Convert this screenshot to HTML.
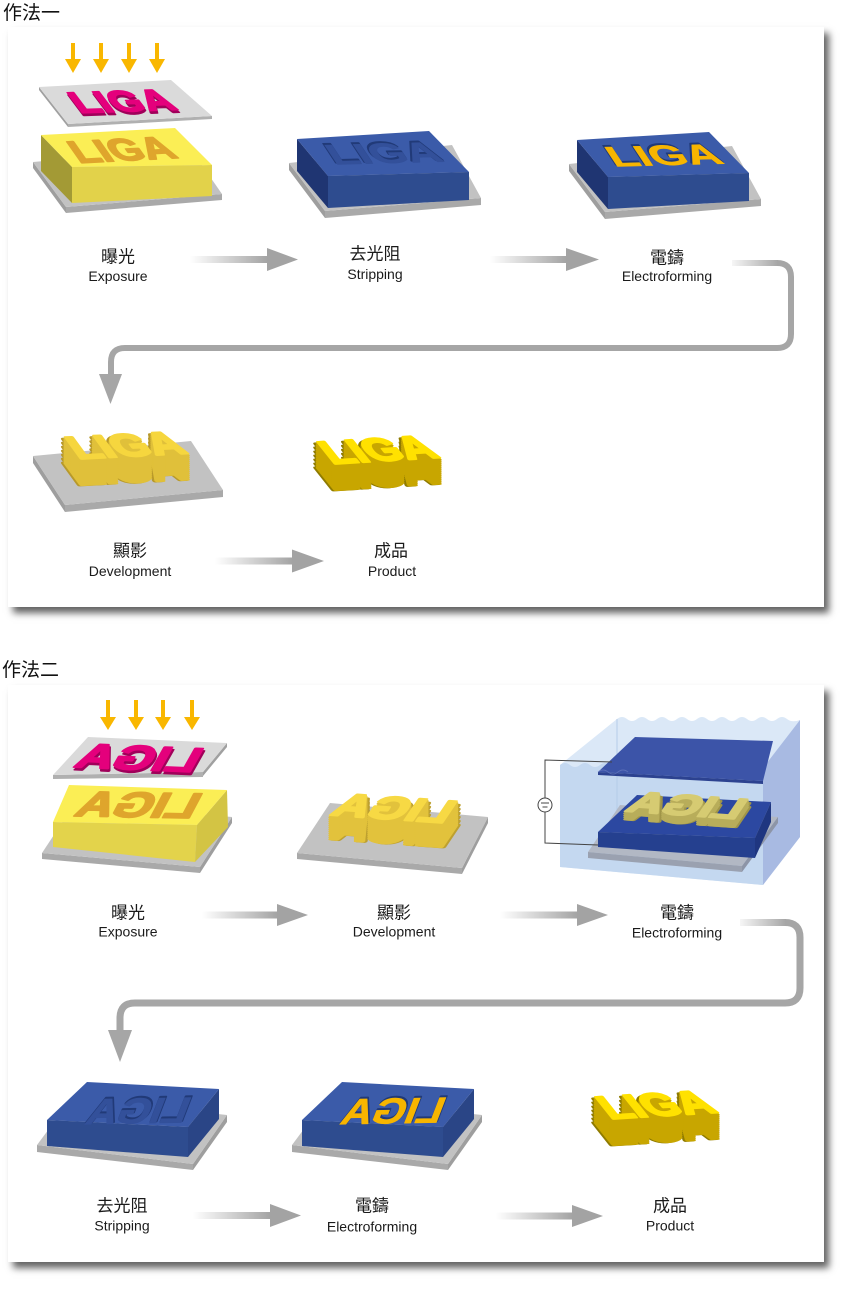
<!DOCTYPE html>
<html><head><meta charset="utf-8">
<style>
html,body{margin:0;padding:0;background:#fff;}
body{width:850px;height:1290px;position:relative;overflow:hidden;}
.panel{position:absolute;background:#fff;box-shadow:5px 6px 7px rgba(0,0,0,0.62);}
svg{position:absolute;left:0;top:0;}
.cn{font-family:"Liberation Sans","Noto Sans CJK TC",sans-serif;font-size:17px;fill:#1a1a1a;}
.en{font-family:"Liberation Sans",sans-serif;font-size:14px;fill:#1a1a1a;}
.tt{font-family:"Liberation Sans","Noto Sans CJK TC",sans-serif;font-size:19px;fill:#111;}
.L{font-family:"Liberation Sans",sans-serif;font-weight:bold;font-size:30px;stroke-linejoin:round;}
</style></head><body>
<div class="panel" style="left:8px;top:27px;width:816px;height:580px;"></div>
<div class="panel" style="left:8px;top:685px;width:816px;height:577px;"></div>
<svg width="850" height="1290" viewBox="0 0 850 1290" xmlns="http://www.w3.org/2000/svg">
<defs>
<linearGradient id="ag" x1="0" x2="1" y1="0" y2="0"><stop offset="0" stop-color="#a3a3a3" stop-opacity="0"/><stop offset="1" stop-color="#a3a3a3"/></linearGradient>
<linearGradient id="hg" x1="0" x2="1" y1="0" y2="0"><stop offset="0" stop-color="#a6a6a6" stop-opacity="0.1"/><stop offset="1" stop-color="#a6a6a6"/></linearGradient>
</defs>

<!-- titles -->
<text class="tt" x="3" y="19">作法一</text>
<text class="tt" x="2" y="676">作法二</text>

<!-- ============ PANEL 1 ============ -->
<!-- A exposure -->
<g fill="#f9b700">
<rect x="71" y="43" width="4" height="18"/><polygon points="65,59 81,59 73,73"/>
<rect x="99" y="43" width="4" height="18"/><polygon points="93,59 109,59 101,73"/>
<rect x="127" y="43" width="4" height="18"/><polygon points="121,59 137,59 129,73"/>
<rect x="155" y="43" width="4" height="18"/><polygon points="149,59 165,59 157,73"/>
</g>
<polygon points="33,162 66,207 66,213 33,168" fill="#9e9e9e"/>
<polygon points="66,207 222,194 222,200 66,213" fill="#a9a9a9"/>
<polygon points="33,162 190,148 222,194 66,207" fill="#c2c2c2"/>
<polygon points="41,135 72,167 72,203 41,171" fill="#a39a35"/>
<polygon points="72,167 212,165 212,196 72,203" fill="#e2d24a"/>
<polygon points="41,135 175,128 212,165 72,167" fill="#fbee55"/>
<text class="L" transform="translate(79,163) rotate(-3) skewX(32) scale(1.4,1.05)" fill="#dfa52c" stroke="#dfa52c" stroke-width="1.6">LIGA</text>
<polygon points="39,87 68,124 68,127 39,90" fill="#a0a0a0"/>
<polygon points="68,124 212,116 212,119 68,127" fill="#b0b0b0"/>
<polygon points="39,87 171,80 212,116 68,124" fill="#dadada"/>
<text class="L" transform="translate(81,115.5) rotate(-2) skewX(35) scale(1.38,1)" font-size="34" fill="#a0005a" stroke="#a0005a" stroke-width="1.8">LIGA</text>
<text class="L" transform="translate(80,113) rotate(-2) skewX(35) scale(1.38,1)" font-size="34" fill="#e4007c" stroke="#e4007c" stroke-width="1.6">LIGA</text>

<!-- B stripping -->
<polygon points="289,163 325,211 325,218 289,170" fill="#9e9e9e"/>
<polygon points="325,211 481,198 481,205 325,218" fill="#a9a9a9"/>
<polygon points="289,163 452,145 481,198 325,211" fill="#c2c2c2"/>
<polygon points="297,139 328,176 328,208 297,171" fill="#1f3572"/>
<polygon points="328,176 469,172 469,200 328,208" fill="#2e4c8f"/>
<polygon points="297,139 429,131 469,172 328,176" fill="#3b5ba9"/>
<text class="L" transform="translate(333,163) rotate(-1.5) skewX(32) scale(1.55,0.95)" fill="#213a78" stroke="#213a78" stroke-width="1.4">LIGA</text>
<text class="L" transform="translate(334.5,164.5) rotate(-1.5) skewX(32) scale(1.55,0.95)" fill="#33509a" stroke="#33509a" stroke-width="0.6">LIGA</text>

<!-- C electroforming -->
<g transform="translate(280,1)">
<polygon points="289,163 325,211 325,218 289,170" fill="#9e9e9e"/>
<polygon points="325,211 481,198 481,205 325,218" fill="#a9a9a9"/>
<polygon points="289,163 452,145 481,198 325,211" fill="#c2c2c2"/>
<polygon points="297,139 328,176 328,208 297,171" fill="#1f3572"/>
<polygon points="328,176 469,172 469,200 328,208" fill="#2e4c8f"/>
<polygon points="297,139 429,131 469,172 328,176" fill="#3b5ba9"/>
<text class="L" transform="translate(333,164) rotate(-1.5) skewX(32) scale(1.55,0.95)" fill="#213a78" stroke="#213a78" stroke-width="1.4">LIGA</text>
<text class="L" transform="translate(334.5,165.5) rotate(-1.5) skewX(32) scale(1.55,0.95)" fill="#f7b500" stroke="#f7b500" stroke-width="0.6">LIGA</text>
</g>

<!-- arrows row1 -->
<rect x="190" y="256" width="78" height="7" fill="url(#ag)"/><polygon points="267,248 298,259.5 267,271" fill="#a3a3a3"/>
<rect x="490" y="256" width="77" height="7" fill="url(#ag)"/><polygon points="566,248 599,259.5 566,271" fill="#a3a3a3"/>

<!-- labels row1 -->
<g text-anchor="middle">
<text class="cn" x="118" y="262.5">曝光</text><text class="en" x="118" y="281">Exposure</text>
<text class="cn" x="375" y="259.5">去光阻</text><text class="en" x="375" y="279">Stripping</text>
<text class="cn" x="667" y="263.5">電鑄</text><text class="en" x="667" y="281">Electroforming</text>
</g>

<!-- connector 1 -->
<rect x="732" y="260" width="46" height="6" fill="url(#hg)"/>
<path d="M777 263 Q791 263 791 277 V334 Q791 348 777 348 H125 Q111 348 111 362 V376" stroke="#a6a6a6" stroke-width="6" fill="none"/>
<polygon points="99,374 122,374 110.5,404" fill="#a6a6a6"/>

<!-- D development -->
<polygon points="33,456 65,505 65,512 33,463" fill="#9e9e9e"/>
<polygon points="65,505 223,490 223,497 65,512" fill="#a9a9a9"/>
<polygon points="33,456 191,441 223,490 65,505" fill="#c2c2c2"/>
<g class="L" fill="#b8992a" stroke="#b8992a" stroke-width="3">
<text transform="translate(76,485) rotate(-3) skewX(33) scale(1.55,1.08)">LIGA</text>
<text transform="translate(76,481) rotate(-3) skewX(33) scale(1.55,1.08)">LIGA</text>
<text transform="translate(76,477) rotate(-3) skewX(33) scale(1.55,1.08)">LIGA</text>
<text transform="translate(76,473) rotate(-3) skewX(33) scale(1.55,1.08)">LIGA</text>
<text transform="translate(76,469) rotate(-3) skewX(33) scale(1.55,1.08)">LIGA</text>
<text transform="translate(76,465) rotate(-3) skewX(33) scale(1.55,1.08)">LIGA</text>
<text transform="translate(76,461) rotate(-3) skewX(33) scale(1.55,1.08)">LIGA</text>
</g>
<g class="L" fill="#e0c03a" stroke="#e0c03a" stroke-width="2.5">
<text transform="translate(78,485) rotate(-3) skewX(33) scale(1.55,1.08)">LIGA</text>
<text transform="translate(78,483) rotate(-3) skewX(33) scale(1.55,1.08)">LIGA</text>
<text transform="translate(78,481) rotate(-3) skewX(33) scale(1.55,1.08)">LIGA</text>
<text transform="translate(78,479) rotate(-3) skewX(33) scale(1.55,1.08)">LIGA</text>
<text transform="translate(78,477) rotate(-3) skewX(33) scale(1.55,1.08)">LIGA</text>
<text transform="translate(78,475) rotate(-3) skewX(33) scale(1.55,1.08)">LIGA</text>
<text transform="translate(78,473) rotate(-3) skewX(33) scale(1.55,1.08)">LIGA</text>
<text transform="translate(78,471) rotate(-3) skewX(33) scale(1.55,1.08)">LIGA</text>
<text transform="translate(78,469) rotate(-3) skewX(33) scale(1.55,1.08)">LIGA</text>
<text transform="translate(78,467) rotate(-3) skewX(33) scale(1.55,1.08)">LIGA</text>
<text transform="translate(78,465) rotate(-3) skewX(33) scale(1.55,1.08)">LIGA</text>
<text transform="translate(78,463) rotate(-3) skewX(33) scale(1.55,1.08)">LIGA</text>
<text transform="translate(78,461) rotate(-3) skewX(33) scale(1.55,1.08)">LIGA</text>
</g>
<text class="L" transform="translate(78,459) rotate(-3) skewX(33) scale(1.55,1.08)" fill="#f6d63e" stroke="#f6d63e" stroke-width="2">LIGA</text>

<!-- E product -->
<g class="L" fill="#8f7b00" stroke="#8f7b00" stroke-width="3">
<text transform="translate(330,490) rotate(-3.5) skewX(35) scale(1.52,1.1)">LIGA</text>
<text transform="translate(330,486) rotate(-3.5) skewX(35) scale(1.52,1.1)">LIGA</text>
<text transform="translate(330,482) rotate(-3.5) skewX(35) scale(1.52,1.1)">LIGA</text>
<text transform="translate(330,478) rotate(-3.5) skewX(35) scale(1.52,1.1)">LIGA</text>
<text transform="translate(330,474) rotate(-3.5) skewX(35) scale(1.52,1.1)">LIGA</text>
<text transform="translate(330,470) rotate(-3.5) skewX(35) scale(1.52,1.1)">LIGA</text>
<text transform="translate(330,466) rotate(-3.5) skewX(35) scale(1.52,1.1)">LIGA</text>
</g>
<g class="L" fill="#c8a600" stroke="#c8a600" stroke-width="2.5">
<text transform="translate(332,490) rotate(-3.5) skewX(35) scale(1.52,1.1)">LIGA</text>
<text transform="translate(332,488) rotate(-3.5) skewX(35) scale(1.52,1.1)">LIGA</text>
<text transform="translate(332,486) rotate(-3.5) skewX(35) scale(1.52,1.1)">LIGA</text>
<text transform="translate(332,484) rotate(-3.5) skewX(35) scale(1.52,1.1)">LIGA</text>
<text transform="translate(332,482) rotate(-3.5) skewX(35) scale(1.52,1.1)">LIGA</text>
<text transform="translate(332,480) rotate(-3.5) skewX(35) scale(1.52,1.1)">LIGA</text>
<text transform="translate(332,478) rotate(-3.5) skewX(35) scale(1.52,1.1)">LIGA</text>
<text transform="translate(332,476) rotate(-3.5) skewX(35) scale(1.52,1.1)">LIGA</text>
<text transform="translate(332,474) rotate(-3.5) skewX(35) scale(1.52,1.1)">LIGA</text>
<text transform="translate(332,472) rotate(-3.5) skewX(35) scale(1.52,1.1)">LIGA</text>
<text transform="translate(332,470) rotate(-3.5) skewX(35) scale(1.52,1.1)">LIGA</text>
<text transform="translate(332,468) rotate(-3.5) skewX(35) scale(1.52,1.1)">LIGA</text>
<text transform="translate(332,466) rotate(-3.5) skewX(35) scale(1.52,1.1)">LIGA</text>
</g>
<text class="L" transform="translate(332,464) rotate(-3.5) skewX(35) scale(1.52,1.1)" fill="#ffe100" stroke="#ffe100" stroke-width="2">LIGA</text>

<!-- arrow row2 -->
<rect x="215" y="557.5" width="78" height="7" fill="url(#ag)"/><polygon points="292,549.5 324,561 292,572.5" fill="#a3a3a3"/>
<g text-anchor="middle">
<text class="cn" x="130" y="556.5">顯影</text><text class="en" x="130" y="576">Development</text>
<text class="cn" x="391" y="556.5">成品</text><text class="en" x="392" y="576">Product</text>
</g>

<!-- ============ PANEL 2 ============ -->
<!-- F exposure -->
<g fill="#f9b700">
<rect x="106" y="700" width="4" height="19"/><polygon points="100,717 116,717 108,730"/>
<rect x="134" y="700" width="4" height="19"/><polygon points="128,717 144,717 136,730"/>
<rect x="161" y="700" width="4" height="19"/><polygon points="155,717 171,717 163,730"/>
<rect x="190" y="700" width="4" height="19"/><polygon points="184,717 200,717 192,730"/>
</g>
<polygon points="200,867 232,817 232,823 200,873" fill="#9e9e9e"/>
<polygon points="42,853 200,867 200,873 42,859" fill="#a9a9a9"/>
<polygon points="42,853 200,867 232,817 75,803" fill="#c2c2c2"/>
<polygon points="197,825 227,790 228,827 195,862" fill="#d3c444"/>
<polygon points="53,822 197,825 195,862 53,847" fill="#e3d34b"/>
<polygon points="69,785 227,790 197,825 53,822" fill="#fbee55"/>
<text class="L" transform="translate(192,818) rotate(1) skewX(-27) scale(-1.66,1.18)" fill="#dfa52c" stroke="#dfa52c" stroke-width="1.6">LIGA</text>
<polygon points="203,772 227,743 227,747 203,776" fill="#a0a0a0"/>
<polygon points="53,775 203,772 203,777 53,779" fill="#b0b0b0"/>
<polygon points="88,737 227,743 203,772 53,775" fill="#dadada"/>
<text class="L" transform="translate(194,774.5) rotate(2.4) skewX(-27) scale(-1.68,1.15)" fill="#a0005a" stroke="#a0005a" stroke-width="1.8">LIGA</text>
<text class="L" transform="translate(193,772) rotate(2.4) skewX(-27) scale(-1.68,1.15)" fill="#e4007c" stroke="#e4007c" stroke-width="1.6">LIGA</text>

<!-- G development -->
<polygon points="462,868 488,817 488,823 462,874" fill="#9e9e9e"/>
<polygon points="297,853 462,868 462,874 297,859" fill="#a9a9a9"/>
<polygon points="297,853 462,868 488,817 330,803" fill="#c2c2c2"/>
<g class="L" fill="#bda030" stroke="#bda030" stroke-width="3">
<text transform="translate(447,847) rotate(4) skewX(-30) scale(-1.62,1.08)">LIGA</text>
<text transform="translate(447,843) rotate(4) skewX(-30) scale(-1.62,1.08)">LIGA</text>
<text transform="translate(447,839) rotate(4) skewX(-30) scale(-1.62,1.08)">LIGA</text>
<text transform="translate(447,835) rotate(4) skewX(-30) scale(-1.62,1.08)">LIGA</text>
<text transform="translate(447,831) rotate(4) skewX(-30) scale(-1.62,1.08)">LIGA</text>
<text transform="translate(447,827) rotate(4) skewX(-30) scale(-1.62,1.08)">LIGA</text>
</g>
<g class="L" fill="#e2c23c" stroke="#e2c23c" stroke-width="2.5">
<text transform="translate(445,847) rotate(4) skewX(-30) scale(-1.62,1.08)">LIGA</text>
<text transform="translate(445,845) rotate(4) skewX(-30) scale(-1.62,1.08)">LIGA</text>
<text transform="translate(445,843) rotate(4) skewX(-30) scale(-1.62,1.08)">LIGA</text>
<text transform="translate(445,841) rotate(4) skewX(-30) scale(-1.62,1.08)">LIGA</text>
<text transform="translate(445,839) rotate(4) skewX(-30) scale(-1.62,1.08)">LIGA</text>
<text transform="translate(445,837) rotate(4) skewX(-30) scale(-1.62,1.08)">LIGA</text>
<text transform="translate(445,835) rotate(4) skewX(-30) scale(-1.62,1.08)">LIGA</text>
<text transform="translate(445,833) rotate(4) skewX(-30) scale(-1.62,1.08)">LIGA</text>
<text transform="translate(445,831) rotate(4) skewX(-30) scale(-1.62,1.08)">LIGA</text>
<text transform="translate(445,829) rotate(4) skewX(-30) scale(-1.62,1.08)">LIGA</text>
<text transform="translate(445,827) rotate(4) skewX(-30) scale(-1.62,1.08)">LIGA</text>
<text transform="translate(445,825) rotate(4) skewX(-30) scale(-1.62,1.08)">LIGA</text>
</g>
<text class="L" transform="translate(445,823) rotate(4) skewX(-30) scale(-1.62,1.08)" fill="#f7d944" stroke="#f7d944" stroke-width="2">LIGA</text>

<!-- H electroforming tank -->
<path d="M560 765 L617 719 Q622 715 627 719 T637 719 T647 719 T657 719 T667 719 T677 719 T687 719 T697 719 T707 719 T717 719 T727 719 T737 719 T747 719 T757 719 T767 719 T777 719 T787 719 T800 720 L800 837 L763 885 L560 867 Z" fill="#dbe8f7"/>
<path d="M560 765 Q565 761 570 765 T580 765 T590 765 T600 765 T610 765 T620 765 T630 765 T640 765 T650 765 T660 765 T670 765 T680 765 T690 765 T700 765 T710 765 T720 765 T730 765 T740 765 T750 765 T763 768 L763 885 L560 867 Z" fill="#c4d8f0"/>
<polygon points="763,768 800,720 800,837 763,885" fill="#a8bae2"/>
<line x1="617" y1="719" x2="617" y2="840" stroke="#b5cbe9" stroke-width="1"/>
<polygon points="635,737 773,741 763,781 598,772" fill="#3c54a8"/>
<polygon points="598,772 763,781 763,784 598,775" fill="#2c4290"/>
<polygon points="588,852 742,866 778,817 620,805" fill="#b2b8c4"/>
<polygon points="588,852 742,866 742,872 588,858" fill="#9aa1b0"/>
<polygon points="742,866 778,817 778,823 742,872" fill="#8d95a7"/>
<polygon points="637,795 771,802 755,838 598,832" fill="#2c48a1"/>
<polygon points="598,832 755,838 755,858 598,847" fill="#25408f"/>
<polygon points="755,838 771,802 771,822 755,858" fill="#1f3680"/>
<g class="L" fill="#a09548" stroke="#a09548" stroke-width="3">
<text transform="translate(739,827) rotate(4) skewX(-30) scale(-1.58,0.98)">LIGA</text>
<text transform="translate(739,823) rotate(4) skewX(-30) scale(-1.58,0.98)">LIGA</text>
</g>
<g class="L" fill="#b8ad5a" stroke="#b8ad5a" stroke-width="2.5">
<text transform="translate(737,827) rotate(4) skewX(-30) scale(-1.58,0.98)">LIGA</text>
<text transform="translate(737,825) rotate(4) skewX(-30) scale(-1.58,0.98)">LIGA</text>
<text transform="translate(737,823) rotate(4) skewX(-30) scale(-1.58,0.98)">LIGA</text>
<text transform="translate(737,821) rotate(4) skewX(-30) scale(-1.58,0.98)">LIGA</text>
</g>
<text class="L" transform="translate(737,819) rotate(4) skewX(-30) scale(-1.58,0.98)" fill="#d6cb72" stroke="#d6cb72" stroke-width="2">LIGA</text>
<path d="M598 772 Q603 768 608 772 T618 772 T628 772" stroke="#6f82c4" stroke-width="1" fill="none" opacity="0.6"/>
<polyline points="612,762 545,760 545,798" fill="none" stroke="#444" stroke-width="1"/>
<polyline points="545,812 545,843 598,845" fill="none" stroke="#444" stroke-width="1"/>
<circle cx="545" cy="805" r="7" fill="#fff" stroke="#444" stroke-width="1"/>
<line x1="541" y1="803" x2="549" y2="803" stroke="#444" stroke-width="1"/>
<line x1="542.5" y1="807" x2="547.5" y2="807" stroke="#444" stroke-width="1"/>

<!-- arrows row1 p2 -->
<rect x="202" y="911.5" width="76" height="7" fill="url(#ag)"/><polygon points="277,904 308,915 277,926" fill="#a3a3a3"/>
<rect x="500" y="911.5" width="78" height="7" fill="url(#ag)"/><polygon points="577,904 608,915 577,926" fill="#a3a3a3"/>
<g text-anchor="middle">
<text class="cn" x="128" y="918.5">曝光</text><text class="en" x="128" y="936.5">Exposure</text>
<text class="cn" x="394" y="918.5">顯影</text><text class="en" x="394" y="936.5">Development</text>
<text class="cn" x="677" y="918.5">電鑄</text><text class="en" x="677" y="937.5">Electroforming</text>
</g>

<!-- connector 2 -->
<rect x="740" y="919" width="46" height="7" fill="url(#hg)"/>
<path d="M785 922.5 Q800 922.5 800 937.5 V988 Q800 1003 785 1003 H135 Q120 1003 120 1018 V1032" stroke="#a6a6a6" stroke-width="7" fill="none"/>
<polygon points="108,1030 132,1030 120,1062" fill="#a6a6a6"/>

<!-- I stripping -->
<polygon points="193,1164 227,1115 227,1122 193,1170" fill="#9e9e9e"/>
<polygon points="37,1145 193,1164 193,1170 37,1152" fill="#a9a9a9"/>
<polygon points="37,1145 193,1164 227,1115 72,1098" fill="#c2c2c2"/>
<polygon points="188,1127 219,1089 219,1119 188,1157" fill="#2a4586"/>
<polygon points="47,1120 188,1127 188,1157 47,1146" fill="#2e4c8f"/>
<polygon points="87,1082 219,1089 188,1127 47,1120" fill="#3b5ba9"/>
<text class="L" transform="translate(185,1121) rotate(-1) skewX(-22) scale(-1.4,1.2)" fill="#213a78" stroke="#213a78" stroke-width="1.4">LIGA</text>
<text class="L" transform="translate(184,1122.5) rotate(-1) skewX(-22) scale(-1.4,1.2)" fill="#33509a" stroke="#33509a" stroke-width="0.6">LIGA</text>

<!-- J electroforming -->
<g transform="translate(255,0)">
<polygon points="193,1164 227,1115 227,1122 193,1170" fill="#9e9e9e"/>
<polygon points="37,1145 193,1164 193,1170 37,1152" fill="#a9a9a9"/>
<polygon points="37,1145 193,1164 227,1115 72,1098" fill="#c2c2c2"/>
<polygon points="188,1127 219,1089 219,1119 188,1157" fill="#2a4586"/>
<polygon points="47,1120 188,1127 188,1157 47,1146" fill="#2e4c8f"/>
<polygon points="87,1082 219,1089 188,1127 47,1120" fill="#3b5ba9"/>
<text class="L" transform="translate(185,1121) rotate(-1) skewX(-22) scale(-1.4,1.2)" fill="#213a78" stroke="#213a78" stroke-width="1.4">LIGA</text>
<text class="L" transform="translate(184,1122.5) rotate(-1) skewX(-22) scale(-1.4,1.2)" fill="#f7b500" stroke="#f7b500" stroke-width="0.6">LIGA</text>
</g>

<!-- K product -->
<g transform="translate(278,655)">
<g class="L" fill="#8f7b00" stroke="#8f7b00" stroke-width="3">
<text transform="translate(330,490) rotate(-3.5) skewX(35) scale(1.52,1.1)">LIGA</text>
<text transform="translate(330,486) rotate(-3.5) skewX(35) scale(1.52,1.1)">LIGA</text>
<text transform="translate(330,482) rotate(-3.5) skewX(35) scale(1.52,1.1)">LIGA</text>
<text transform="translate(330,478) rotate(-3.5) skewX(35) scale(1.52,1.1)">LIGA</text>
<text transform="translate(330,474) rotate(-3.5) skewX(35) scale(1.52,1.1)">LIGA</text>
<text transform="translate(330,470) rotate(-3.5) skewX(35) scale(1.52,1.1)">LIGA</text>
<text transform="translate(330,466) rotate(-3.5) skewX(35) scale(1.52,1.1)">LIGA</text>
</g>
<g class="L" fill="#c8a600" stroke="#c8a600" stroke-width="2.5">
<text transform="translate(332,490) rotate(-3.5) skewX(35) scale(1.52,1.1)">LIGA</text>
<text transform="translate(332,488) rotate(-3.5) skewX(35) scale(1.52,1.1)">LIGA</text>
<text transform="translate(332,486) rotate(-3.5) skewX(35) scale(1.52,1.1)">LIGA</text>
<text transform="translate(332,484) rotate(-3.5) skewX(35) scale(1.52,1.1)">LIGA</text>
<text transform="translate(332,482) rotate(-3.5) skewX(35) scale(1.52,1.1)">LIGA</text>
<text transform="translate(332,480) rotate(-3.5) skewX(35) scale(1.52,1.1)">LIGA</text>
<text transform="translate(332,478) rotate(-3.5) skewX(35) scale(1.52,1.1)">LIGA</text>
<text transform="translate(332,476) rotate(-3.5) skewX(35) scale(1.52,1.1)">LIGA</text>
<text transform="translate(332,474) rotate(-3.5) skewX(35) scale(1.52,1.1)">LIGA</text>
<text transform="translate(332,472) rotate(-3.5) skewX(35) scale(1.52,1.1)">LIGA</text>
<text transform="translate(332,470) rotate(-3.5) skewX(35) scale(1.52,1.1)">LIGA</text>
<text transform="translate(332,468) rotate(-3.5) skewX(35) scale(1.52,1.1)">LIGA</text>
<text transform="translate(332,466) rotate(-3.5) skewX(35) scale(1.52,1.1)">LIGA</text>
</g>
<text class="L" transform="translate(332,464) rotate(-3.5) skewX(35) scale(1.52,1.1)" fill="#ffe100" stroke="#ffe100" stroke-width="2">LIGA</text>
</g>

<!-- arrows row2 p2 -->
<rect x="193" y="1212" width="78" height="7" fill="url(#ag)"/><polygon points="270,1204 301,1215.5 270,1227" fill="#a3a3a3"/>
<rect x="496" y="1212.5" width="77" height="7" fill="url(#ag)"/><polygon points="572,1205 603,1216 572,1227" fill="#a3a3a3"/>
<g text-anchor="middle">
<text class="cn" x="122" y="1211.5">去光阻</text><text class="en" x="122" y="1230.5">Stripping</text>
<text class="cn" x="372" y="1211.5">電鑄</text><text class="en" x="372" y="1231.5">Electroforming</text>
<text class="cn" x="670" y="1211.5">成品</text><text class="en" x="670" y="1230.5">Product</text>
</g>
</svg>
</body></html>
